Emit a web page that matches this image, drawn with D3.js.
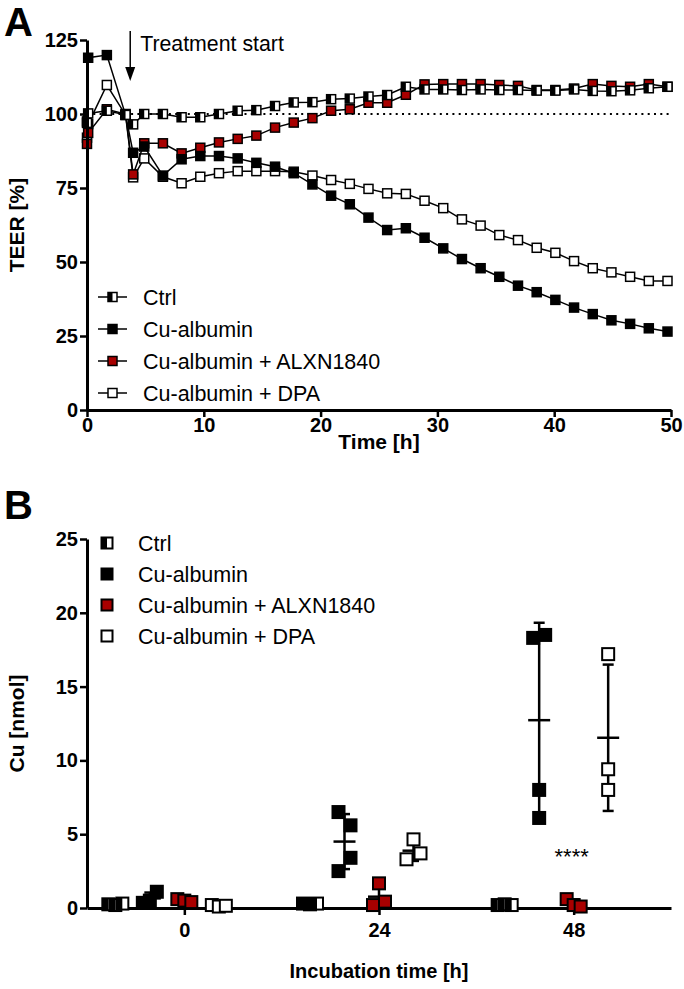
<!DOCTYPE html>
<html><head><meta charset="utf-8">
<script src="https://cdn.jsdelivr.net/npm/d3@7"></script>
<style>
body{margin:0;background:#fff}
svg{display:block}
text{font-family:"Liberation Sans",Arial,Helvetica,sans-serif;fill:#000}
</style>
</head><body>
<svg id="chart" width="684" height="989"></svg>
<script>
// ---------- DATA: panel A (TEER %) ----------
const seriesNames = ["Ctrl", "Cu-albumin", "Cu-albumin + ALXN1840", "Cu-albumin + DPA"];
const timesA = [0, 0.1, 1.7, 3.3, 3.95, 4.9, 6.5, 8.1, 9.7, 11.3, 12.9, 14.5, 16.1, 17.7, 19.3, 20.9, 22.5, 24.1, 25.7, 27.3, 28.9, 30.5, 32.1, 33.7, 35.3, 36.9, 38.5, 40.1, 41.7, 43.3, 44.9, 46.5, 48.1, 49.7];
const ctrlA = [97, 100.2, 101.1, 99.7, 96.5, 100, 100, 98.9, 98.9, 100, 101.1, 101.3, 102.7, 103.9, 104, 105, 105.2, 105.9, 106.4, 109.2, 108.3, 108.3, 108.1, 108.3, 108.1, 108.1, 107.9, 107.9, 108.3, 107.8, 107.7, 108, 108.7, 109.2];
const cuA = [97.5, 119, 119.9, 99.7, 86.9, 89, 79.2, 84.7, 85.8, 85.8, 85, 83.5, 82.2, 80, 76.2, 72.4, 69.5, 65, 60.8, 61.4, 58.2, 54.6, 51, 47.9, 45, 42, 39.8, 37.2, 34.6, 32.4, 30.3, 29.1, 27.6, 26.5];
const alxnA = [89.9, 93.6, 101.6, 100, 79.6, 90.1, 90.1, 86.7, 88.6, 90.4, 91.6, 92.7, 95.4, 97.1, 98.6, 101.1, 101.6, 103.8, 103.8, 106.5, 110, 110.1, 110.1, 110.1, 109.8, 109.5, 108.1, 108.1, 108.6, 110.1, 109.5, 109.2, 110.1, 109.2];
const dpaA = [92, 96.6, 109.8, 99.7, 78.6, 85, 78.8, 76.6, 78.8, 80, 80.7, 80.7, 80.7, 80.5, 79.2, 77.7, 76.4, 74.7, 73.2, 73, 70.7, 68.2, 64.4, 62.3, 59.1, 57.4, 54.8, 53.1, 50.3, 47.9, 46.5, 45, 43.6, 43.6];
const yTicksA = [0, 25, 50, 75, 100, 125];
const xTicksA = [0, 10, 20, 30, 40, 50];
const referenceA = 100;
const treatmentStart = 3.7;

// ---------- DATA: panel B (Cu nmol) ----------
const timesB = [0, 24, 48];
const ctrlB = [[0.25, 0.2, 0.3], [0.3, 0.25, 0.3], [0.2, 0.25, 0.2]];
const cuB = [[0.35, 0.5, 1.1], [6.5, 5.6, 2.5, 3.4], [18.3, 18.5, 8.0, 6.1]];
const alxnB = [[0.6, 0.5, 0.4], [0.2, 1.67, 0.43], [0.6, 0.2, 0.1]];
const dpaB = [[0.2, 0.1, 0.15], [3.3, 4.65, 3.7], [17.2, 9.4, 8.0]];
const yTicksB = [0, 5, 10, 15, 20, 25];
const sigLabel = "****";

// ---------- STYLE ----------
const RED = "#a80000";
const fills = {"Ctrl": "half", "Cu-albumin": "#000", "Cu-albumin + ALXN1840": RED, "Cu-albumin + DPA": "#fff"};
const svg = d3.select("#chart");

function marker(g, x, y, size, fill, sw) {
  const h = size / 2;
  if (fill === "half") {
    g.append("rect").attr("x", x - h).attr("y", y - h).attr("width", size).attr("height", size)
      .attr("fill", "#fff").attr("stroke", "#000").attr("stroke-width", sw);
    g.append("rect").attr("x", x - h).attr("y", y - h).attr("width", size * 0.5).attr("height", size)
      .attr("fill", "#000");
  } else {
    g.append("rect").attr("x", x - h).attr("y", y - h).attr("width", size).attr("height", size)
      .attr("fill", fill).attr("stroke", "#000").attr("stroke-width", sw);
  }
}

function styleAxis(g) {
  g.selectAll("path.domain").attr("stroke", "#000").attr("stroke-width", 3);
  g.selectAll(".tick line").attr("stroke", "#000").attr("stroke-width", 2.5);
  g.selectAll(".tick text").attr("font-size", 20).attr("font-weight", "bold")
    .attr("font-family", "'Liberation Sans',Arial,sans-serif").attr("fill", "#000");
}

// ================= PANEL A =================
const xA = d3.scaleLinear().domain([0, 50]).range([87, 671]);
const yA = d3.scaleLinear().domain([0, 125]).range([410, 40]);
const gA = svg.append("g");

gA.append("text").attr("x", 4).attr("y", 36).attr("font-size", 40).attr("font-weight", "bold").text("A");

// reference dotted line
gA.append("line").attr("x1", xA(0)).attr("x2", xA(50)).attr("y1", yA(referenceA)).attr("y2", yA(referenceA))
  .attr("stroke", "#000").attr("stroke-width", 2).attr("stroke-dasharray", "2,4.3");

const seriesA = [
  {name: "Cu-albumin + DPA", vals: dpaA},
  {name: "Cu-albumin + ALXN1840", vals: alxnA},
  {name: "Cu-albumin", vals: cuA},
  {name: "Ctrl", vals: ctrlA}
];
const line = d3.line().x(d => xA(d[0])).y(d => yA(d[1]));
seriesA.forEach(s => {
  const pts = timesA.map((t, i) => [t, s.vals[i]]);
  const g = gA.append("g");
  g.append("path").attr("d", line(pts)).attr("fill", "none").attr("stroke", "#000").attr("stroke-width", 1.5);
  pts.forEach(p => marker(g, xA(p[0]), yA(p[1]), 9, fills[s.name], 1.5));
});

// axes A
const axYA = gA.append("g").attr("transform", `translate(${xA(0)},0)`)
  .call(d3.axisLeft(yA).tickValues(yTicksA).tickSize(7).tickSizeOuter(0).tickPadding(2));
styleAxis(axYA);
const axXA = gA.append("g").attr("transform", `translate(0,${yA(0)})`)
  .call(d3.axisBottom(xA).tickValues(xTicksA).tickSize(7).tickSizeOuter(0).tickPadding(1));
styleAxis(axXA);

gA.append("text").attr("transform", `translate(24,${(yA(0) + yA(125)) / 2}) rotate(-90)`)
  .attr("text-anchor", "middle").attr("font-size", 21).attr("font-weight", "bold").text("TEER [%]");
gA.append("text").attr("x", (xA(0) + xA(50)) / 2).attr("y", 449).attr("text-anchor", "middle")
  .attr("font-size", 21).attr("font-weight", "bold").text("Time [h]");

// treatment arrow
const ax = xA(treatmentStart);
gA.append("line").attr("x1", ax).attr("x2", ax).attr("y1", 31).attr("y2", 70).attr("stroke", "#000").attr("stroke-width", 1.5);
gA.append("path").attr("d", `M${ax - 5},67 L${ax + 5},67 L${ax},81 Z`).attr("fill", "#000");
gA.append("text").attr("x", ax + 10).attr("y", 51).attr("font-size", 21.3).text("Treatment start");

// legend A
const legA = gA.append("g");
seriesNames.forEach((n, i) => {
  const y = 297 + i * 32;
  legA.append("line").attr("x1", 98).attr("x2", 127).attr("y1", y).attr("y2", y).attr("stroke", "#000").attr("stroke-width", 1.5);
  marker(legA, 112.5, y, 9, fills[n], 1.5);
  legA.append("text").attr("x", 143).attr("y", y).attr("dy", "0.35em").attr("font-size", 21.5).text(n);
});

// ================= PANEL B =================
const xB = d3.scaleLinear().domain([-12, 60]).range([87, 671]);
const yB = d3.scaleLinear().domain([0, 25]).range([908, 539]);
const inner = d3.scaleBand().domain(seriesNames).range([-86.25, 51.75]);
const gB = svg.append("g");

gB.append("text").attr("x", 4).attr("y", 519).attr("font-size", 40).attr("font-weight", "bold").text("B");

const axYB = gB.append("g").attr("transform", `translate(${xB(-12)},0)`)
  .call(d3.axisLeft(yB).tickValues(yTicksB).tickSize(7).tickSizeOuter(0).tickPadding(2));
styleAxis(axYB);
const axXB = gB.append("g").attr("transform", `translate(0,${yB(0)})`)
  .call(d3.axisBottom(xB).tickValues(timesB).tickSize(7).tickSizeOuter(0).tickPadding(8));
styleAxis(axXB);

gB.append("text").attr("transform", `translate(24,${(yB(0) + yB(25)) / 2}) rotate(-90)`)
  .attr("text-anchor", "middle").attr("font-size", 21).attr("font-weight", "bold").text("Cu [nmol]");
gB.append("text").attr("x", xB(24)).attr("y", 978).attr("text-anchor", "middle")
  .attr("font-size", 20).attr("font-weight", "bold").text("Incubation time [h]");

const seriesB = [
  {name: "Ctrl", vals: ctrlB},
  {name: "Cu-albumin", vals: cuB},
  {name: "Cu-albumin + ALXN1840", vals: alxnB},
  {name: "Cu-albumin + DPA", vals: dpaB}
];
const MS = 12;
seriesB.forEach(s => {
  const g = gB.append("g");
  timesB.forEach((t, gi) => {
    const vals = s.vals[gi];
    const cx = xB(t) + inner(s.name) + inner.bandwidth() / 2;
    const mean = d3.mean(vals), sd = d3.deviation(vals);
    // error bar (mean ± SD)
    const eb = g.append("g").attr("stroke", "#000").attr("stroke-width", 2.5);
    eb.append("line").attr("x1", cx).attr("x2", cx).attr("y1", yB(mean - sd)).attr("y2", yB(mean + sd));
    [mean - sd, mean + sd].forEach(v => eb.append("line").attr("x1", cx - 5.5).attr("x2", cx + 5.5).attr("y1", yB(v)).attr("y2", yB(v)));
    eb.append("line").attr("x1", cx - 11).attr("x2", cx + 11).attr("y1", yB(mean)).attr("y2", yB(mean));
    // cluster overlapping points horizontally
    const idx = vals.map((v, i) => i).sort((a, b) => vals[a] - vals[b]);
    const clusters = [];
    idx.forEach(i => {
      const last = clusters[clusters.length - 1];
      if (last && Math.abs(yB(vals[i]) - yB(vals[last[last.length - 1]])) < 15) last.push(i);
      else clusters.push([i]);
    });
    const off = new Array(vals.length).fill(0);
    clusters.forEach(c => {
      c.sort((a, b) => a - b);
      const n = c.length, sp = n === 2 ? 12 : 7;
      c.forEach((i, k) => off[i] = (k - (n - 1) / 2) * sp);
    });
    vals.forEach((v, i) => marker(g, cx + off[i], yB(v), MS, fills[s.name], 2));
  });
});

// significance
gB.append("text").attr("x", xB(48) - 2).attr("y", yB(3.7) + 11).attr("text-anchor", "middle")
  .attr("font-size", 22).text(sigLabel);

// legend B
const legB = gB.append("g");
seriesNames.forEach((n, i) => {
  const y = 543 + i * 31;
  marker(legB, 107, y, 11, fills[n], 2);
  legB.append("text").attr("x", 138).attr("y", y).attr("dy", "0.35em").attr("font-size", 21.5).text(n);
});
</script>
</body></html>
